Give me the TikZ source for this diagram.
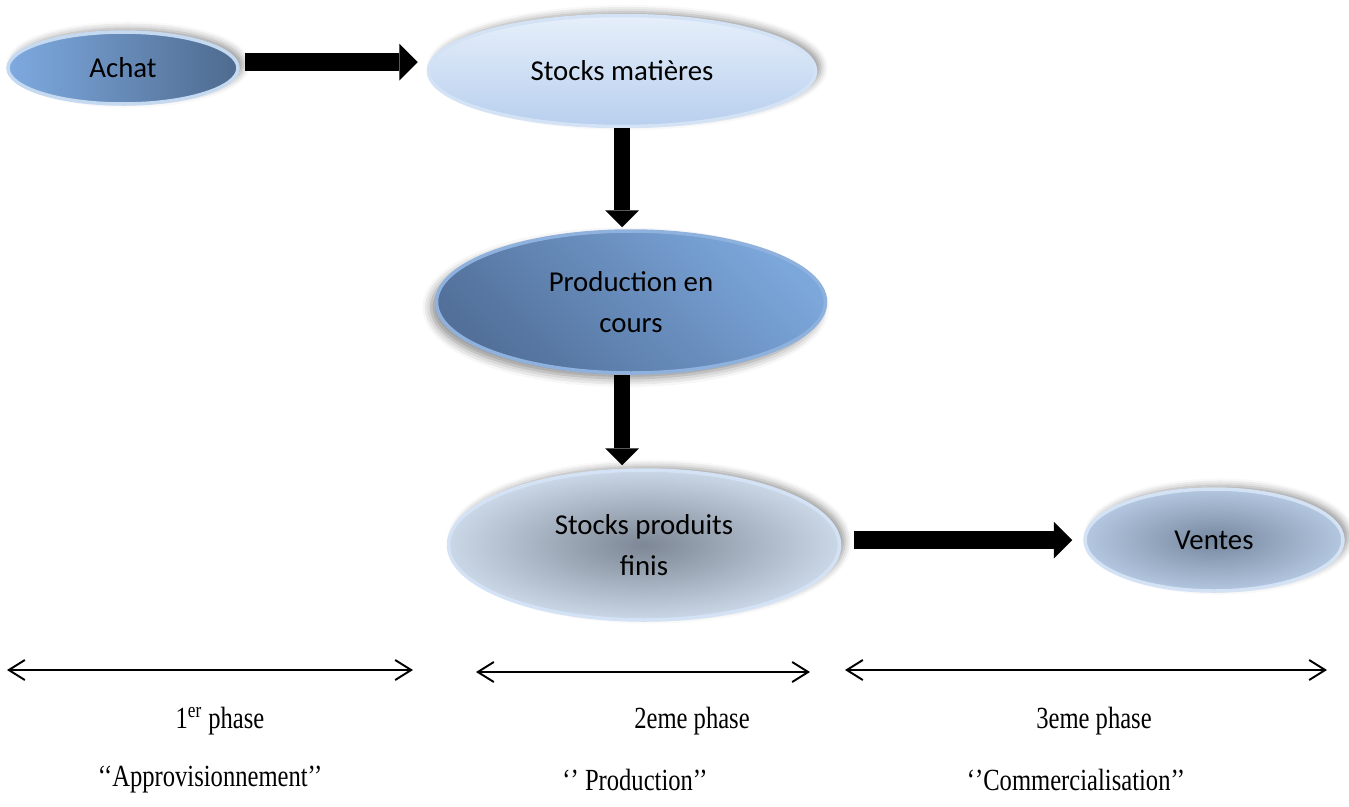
\documentclass[tikz,border=0pt]{standalone}
\usepackage{fontspec}
\setmainfont{Liberation Serif}
\newfontfamily\calibri{Carlito}
\usetikzlibrary{arrows.meta,positioning,shapes.geometric,shadows.blur}

\definecolor{achatL}{HTML}{7EAAE0}
\definecolor{achatR}{HTML}{4E6A8E}
\definecolor{matTop}{HTML}{E6EFFA}
\definecolor{matBot}{HTML}{B8CFEE}
\definecolor{prodL}{HTML}{7CA7DB}
\definecolor{prodD}{HTML}{52709A}
\definecolor{finIn}{HTML}{7D8795}
\definecolor{finOut}{HTML}{CAD7E7}
\definecolor{venIn}{HTML}{76889F}
\definecolor{venOut}{HTML}{B4C7E0}
\definecolor{rimLight}{HTML}{D3E2F4}
\definecolor{rimAchat}{HTML}{C5D9F1}
\definecolor{rimProd}{HTML}{8FB1DD}

\newcommand{\tallsetting}[1]{\scalebox{1}[1.25]{#1}}

\begin{document}
\begin{tikzpicture}[x=0.02cm,y=-0.02cm,
    etape/.style={ellipse, inner sep=0pt, line width=2pt, draw=rimLight, align=center,
      font=\calibri\fontsize{16.4}{23.5}\selectfont,
      blur shadow={shadow xshift=3pt, shadow yshift=2pt, shadow blur radius=4pt, shadow opacity=40}},
    blockarrow/.style={line width=0.36cm, -{Triangle[length=0.37cm,width=0.74cm,line width=0pt]}},
    spanarrow/.style={line width=1.1pt, {Straight Barb[length=0.32cm,width=0.4cm]}-{Straight Barb[length=0.32cm,width=0.4cm]}},
    phase/.style={font=\fontsize{14}{17}\selectfont}]
    \useasboundingbox (0,0) rectangle (1349,806);

    % ellipses of the cycle
    \node[etape, left color=achatL, right color=achatR, draw=rimAchat,
      minimum width=0.02cm*230, minimum height=0.02cm*72] (achat) at (123,68) {Achat};
    \node[etape, top color=matTop, bottom color=matBot,
      minimum width=0.02cm*387, minimum height=0.02cm*111] (stockmat) at (622,71) {Stocks matières};
    \node[etape, top color=prodL, bottom color=prodD, shading angle=-45, draw=rimProd,
      blur shadow={shadow xshift=-3pt, shadow yshift=-3pt, shadow blur radius=5pt, shadow opacity=25},
      minimum width=0.02cm*389, minimum height=0.02cm*142] (prodcours) at (631,302) {Production en\\cours};
    \node[etape, inner color=finIn, outer color=finOut,
      minimum width=0.02cm*391, minimum height=0.02cm*150] (stockpf) at (644,545) {Stocks produits\\finis};
    \node[etape, inner color=venIn, outer color=venOut,
      minimum width=0.02cm*258, minimum height=0.02cm*102] (ventes) at (1214,540) {Ventes};

    % block arrows
    \draw[blockarrow, shorten <=0.1cm, shorten >=0.18cm]
      ([yshift=0.12cm]achat.east) -- ([yshift=0.12cm]achat.east -| stockmat.west);
    \draw[blockarrow, line width=0.32cm, -{Triangle[length=0.34cm,width=0.68cm,line width=0pt]}, shorten >=0.04cm]
      (stockmat.south) -- (stockmat.south |- prodcours.north);
    \draw[blockarrow, line width=0.32cm, -{Triangle[length=0.34cm,width=0.68cm,line width=0pt]}, shorten >=0.06cm]
      (prodcours.south -| stockmat.south) -- (stockpf.north -| stockmat.south);
    \draw[blockarrow, shorten <=0.26cm, shorten >=0.22cm]
      (stockpf.east |- ventes.west) -- (ventes.west);

    % phases
    \coordinate (ph1a) at (7,670);
    \coordinate (ph1b) at (413,670);
    \coordinate (ph2a) at (476,672);
    \coordinate (ph2b) at (810,672);
    \coordinate (ph3a) at (845,670);
    \coordinate (ph3b) at (1327,670);
    \draw[spanarrow] (ph1a) -- (ph1b);
    \draw[spanarrow] (ph2a) -- (ph2b);
    \draw[spanarrow] (ph3a) -- (ph3b);

    \node[phase] (num1) at (220,721) {\tallsetting{1\textsuperscript{er} phase}};
    \node[phase] (num2) at (692,721) {\tallsetting{2eme phase}};
    \node[phase] (num3) at (1094,721) {\tallsetting{3eme phase}};
    \node[phase] (nom1) at (210,780) {\tallsetting{‘‘Approvisionnement’’}};
    \node[phase] (nom2) at (635,780) {\tallsetting{‘’ Production’’}};
    \node[phase] (nom3) at (1076,780) {\tallsetting{‘’Commercialisation’’}};
\end{tikzpicture}
\end{document}
